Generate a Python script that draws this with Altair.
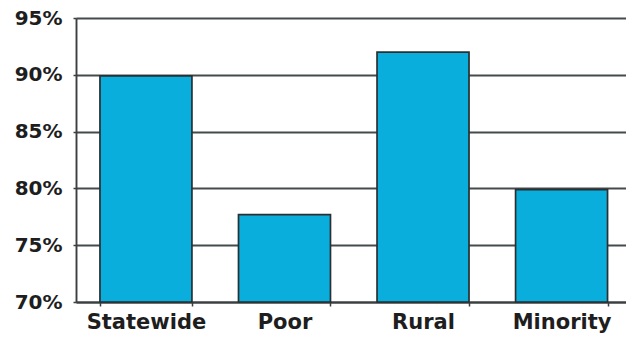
import altair as alt
import pandas as pd

groups = ["Statewide", "Poor", "Rural", "Minority"]
rates = [89.9, 77.7, 92.0, 79.9]
y_ticks = [70, 75, 80, 85, 90, 95]
baseline = 70

df = pd.DataFrame({"group": groups, "rate": rates, "base": [baseline] * len(groups)})

font = "DejaVu Sans"
ink = "#1e1e1e"
line = "#3a3f41"

bars = alt.Chart(df).mark_bar(
    color="#09AEDC", stroke="#2b2f31", strokeWidth=1.7
).encode(
    x=alt.X(
        "group:N",
        sort=groups,
        scale=alt.Scale(paddingInner=0.336, paddingOuter=0.153, align=0.565),
        axis=alt.Axis(
            title=None,
            labelAngle=0,
            labelFont=font,
            labelFontSize=21,
            labelFontWeight="bold",
            labelColor=ink,
            labelPadding=5,
            tickBand="extent",
            ticks=True,
            tickSize=4,
            tickColor=line,
            tickWidth=1.5,
            domain=True,
            domainColor=line,
            domainWidth=1.9,
            grid=False,
        ),
    ),
    y=alt.Y(
        "rate:Q",
        scale=alt.Scale(domain=[70, 95], nice=False, zero=False),
        axis=alt.Axis(
            title=None,
            values=y_ticks,
            labelExpr="datum.value + '%'",
            labelFont=font,
            labelFontSize=20,
            labelFontWeight="bold",
            labelColor=ink,
            labelPadding=11,
            tickSize=3,
            tickColor=line,
            tickWidth=1.5,
            domainColor=line,
            domainWidth=1.9,
            grid=True,
            gridColor="#454a4c",
            gridWidth=1.8,
        ),
    ),
    y2="base:Q",
)

chart = bars.properties(
    width=550,
    height=284,
    autosize=alt.AutoSizeParams(type="none"),
    padding={"left": 76, "top": 18, "right": 0, "bottom": 35},
).configure_view(stroke=None).configure(background="white")

chart.save("out.html", embed_options={"renderer": "svg", "actions": False})
